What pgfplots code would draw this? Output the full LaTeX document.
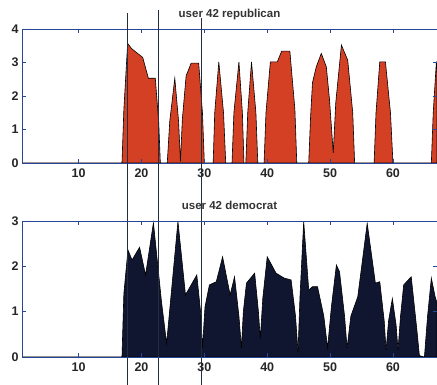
\documentclass[border=0pt]{standalone}
\usepackage{pgfplots}
\pgfplotsset{compat=1.18}
\usepackage{fontspec}
\setmainfont{Liberation Sans}
\definecolor{repred}{RGB}{212,64,36}
\definecolor{demnavy}{RGB}{16,22,48}
\definecolor{axblue}{RGB}{40,70,150}
\definecolor{vline}{RGB}{35,45,62}
\begin{document}
\begin{tikzpicture}
\pgfplotsset{
  every axis/.append style={
    scale only axis, width=415pt, xmin=1, xmax=67,
    xtick={10,20,...,60},
    axis line style={axblue, line width=0.9pt},
    tick style={axblue, line width=0.9pt},
    major tick length=4pt,
    tick align=inside,
    tick label style={font=\bfseries\fontsize{12.5}{14}\selectfont, text=black!85},
    /pgf/number format/assume math mode=true,
    xticklabel style={yshift=-2pt},
    title style={at={(0.5,1)}, anchor=base, yshift=5pt, font=\bfseries\fontsize{11.5}{13}\selectfont, text=black!80},
    axis on top,
    clip=false,
  }
}
\begin{axis}[at={(0,194pt)}, anchor=south west, height=134pt, ymin=0, ymax=4, ytick={0,1,2,3,4},
  title={user 42 republican}]
\addplot[fill=repred, draw=black, line width=0.6pt] coordinates {
(1,0) (16.9,0) (17.2,1.6) (17.8,3.57) (18.4,3.42) (19.2,3.30) (20.2,3.15) (21.1,2.53) (22.2,2.53) (22.75,1.2) (23.0,0)
(24.1,0) (24.5,1.25) (25.3,2.53) (25.9,1.25) (26.2,0.05)
(26.5,1.3) (27.1,2.60) (27.9,2.98) (29.1,2.98) (29.7,1.5) (30.0,0)
(31.4,0) (31.65,1.5) (32.3,3.02) (33.05,1.5) (33.4,0)
(34.4,0) (34.7,1.5) (35.5,3.02) (36.05,1.5) (36.3,0) (36.6,0) (36.9,1.5) (37.5,3.02) (38.2,1.5) (38.5,0)
(39.5,0) (39.8,1.5) (40.5,3.02) (41.6,3.02) (42.3,3.34) (43.6,3.34) (44.4,1.6) (44.7,0)
(46.6,0) (46.9,1.4) (47.2,2.40) (47.8,2.87) (48.6,3.27) (49.4,2.87) (49.9,1.90) (50.5,0.30)
(50.9,1.8) (51.8,3.52) (52.8,3.07) (53.6,1.5) (53.9,0)
(57.0,0) (57.3,1.5) (57.9,3.02) (58.8,3.02) (59.6,1.5) (60.0,0)
(66.1,0) (66.4,1.5) (66.9,3.02) (67,3.02)
} \closedcycle;
\end{axis}
\begin{axis}[at={(0,0)}, anchor=south west, height=136pt, ymin=0, ymax=3, ytick={0,1,2,3},
  title={user 42 democrat}]
\addplot[fill=demnavy, draw=black, line width=0.6pt] coordinates {
(1,0) (16.9,0) (17.2,1.4) (17.85,2.36) (18.5,2.14) (19.7,2.42) (20.65,1.81) (21.9,2.96) (23.2,1.2) (24.0,0.30)
(24.8,1.5) (25.8,2.99) (27.0,1.37) (28.8,1.81) (29.4,1.0) (29.7,0.20) (30.1,1.1) (30.8,1.59) (31.9,1.66) (32.9,2.21)
(34.1,1.37) (34.8,1.77) (35.5,0.9) (35.9,0.20) (36.2,1.0) (36.7,1.63) (38.0,1.85) (38.6,1.0) (38.9,0.40) (39.3,1.3) (40.0,2.21)
(41.4,1.85) (42.7,1.74) (43.8,1.70) (44.5,0.9) (44.9,0.10) (45.2,1.3) (45.8,2.99) (46.6,1.48) (47.2,1.55)
(48.0,1.55) (49.0,0.9) (49.6,0.20) (50.2,1.1) (51.0,2.03) (51.5,1.88) (52.3,0.9) (52.7,0.20) (53.3,0.9) (54.4,1.33) (55.9,2.95)
(57.2,1.63) (57.9,1.66) (58.6,0.8) (58.9,0.15) (59.3,0.8) (59.9,1.29) (60.5,0.7) (60.8,0.15) (61.2,0.9) (61.7,1.59) (62.9,1.77)
(63.8,0.6) (64.2,0.03) (65.0,0) (65.5,0.9) (66.1,1.74) (66.7,1.33) (67,1.20)
} \closedcycle;
\addplot[vline, line width=1.2pt] coordinates {(17.8,-0.7) (17.8,7.59)};
\addplot[vline, line width=1.2pt] coordinates {(22.7,-0.7) (22.7,7.65)};
\addplot[vline, line width=1.2pt] coordinates {(29.6,-0.7) (29.6,7.48)};
\end{axis}
\pgfresetboundingbox
\useasboundingbox (-22pt,-28pt) rectangle (415pt,357pt);
\end{tikzpicture}
\end{document}
